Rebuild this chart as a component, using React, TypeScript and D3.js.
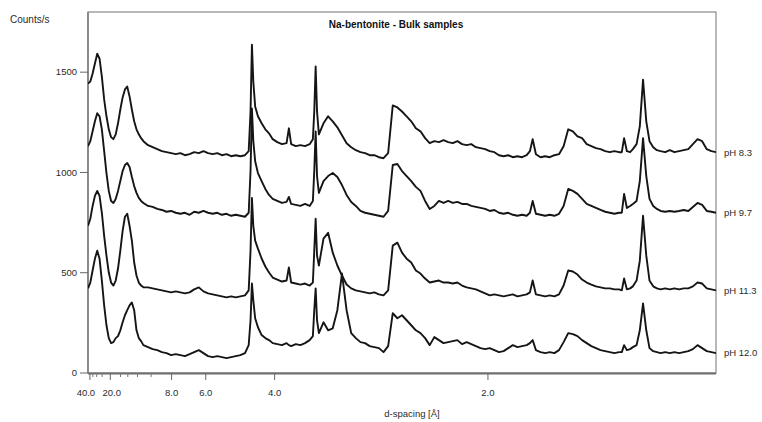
import React from "react";
import * as d3 from "d3";

// 2-theta grid (degrees, Cu K-alpha) shared by all four scans
const twoTheta = [
  2, 2.25, 2.5, 2.75, 3, 3.25, 3.5, 3.75, 4, 4.25, 4.5, 4.75, 5, 5.25, 5.5, 5.75, 6, 6.25, 6.5, 6.75, 7, 7.25, 7.5, 7.75, 8,
  8.5, 9, 9.5, 10, 10.5, 11, 11.5, 12, 12.5, 13, 13.5, 14, 14.5, 15, 15.5, 16, 16.5, 17, 17.5, 18, 18.5, 19,
  19.4, 19.6, 19.75, 19.9, 20.1, 20.4, 20.8, 21.2, 21.6, 22,
  22.5, 23, 23.5, 23.75, 24, 24.5, 25, 25.5, 26,
  26.35, 26.5, 26.65, 26.8, 27,
  27.5, 28, 28.5, 29, 29.5, 30, 30.5, 31, 31.5, 32, 32.5, 33, 33.5, 34, 34.5, 35, 35.5, 36, 36.5, 37, 37.5, 38, 38.5, 39, 39.5, 40,
  40.5, 41, 41.5, 42, 42.5, 43, 43.5, 44, 44.5, 45, 45.5, 46, 46.5, 47, 47.5, 48, 48.5, 49, 49.5,
  49.85, 50.15, 50.5,
  51, 51.5, 52, 52.5, 53, 53.5, 54, 54.5, 55, 55.5, 56, 56.5, 57, 57.5, 58, 58.5, 59, 59.5,
  59.8, 60.05, 60.35, 60.7,
  61, 61.4, 61.75, 62.1, 62.45, 62.8, 63.2, 63.6,
  64, 64.5, 65, 65.5, 66, 66.5, 67, 67.5, 68, 68.5, 69, 69.5, 70,
];

const pH83 = [
  1443, 1453, 1493, 1543, 1592, 1567, 1478, 1364, 1280, 1215, 1176, 1166, 1190, 1245, 1314, 1374, 1414, 1428, 1379, 1314, 1255, 1215, 1190, 1171, 1156,
  1136, 1126, 1116, 1106, 1101, 1096, 1091, 1096, 1086, 1091, 1101, 1096, 1106, 1096, 1091, 1096, 1086, 1091, 1081, 1086, 1081, 1086,
  1106, 1304, 1637, 1453, 1329, 1280, 1245, 1215, 1195, 1166,
  1151, 1141, 1146, 1220, 1141, 1131, 1136, 1131, 1141,
  1166, 1304, 1528, 1304, 1190,
  1245, 1280, 1255, 1225, 1185, 1146, 1126, 1111, 1101, 1096, 1086, 1086, 1076, 1071, 1096, 1334, 1324, 1304, 1280, 1255, 1220, 1205, 1171, 1146, 1156, 1151,
  1161, 1151, 1146, 1156, 1141, 1136, 1141, 1126, 1121, 1116, 1106, 1101, 1086, 1081, 1086, 1076, 1081, 1076, 1086,
  1106, 1166, 1091,
  1076, 1081, 1076, 1086, 1091, 1131, 1215, 1205, 1180, 1171, 1141, 1131, 1121, 1116, 1106, 1101, 1106, 1101,
  1101, 1171, 1106, 1101,
  1116, 1141, 1230, 1463, 1255, 1156, 1126, 1111,
  1106, 1101, 1111, 1101, 1106, 1111, 1116, 1141, 1166, 1156, 1116, 1106, 1101,
];

const pH97 = [
  1131, 1156, 1205, 1255, 1295, 1280, 1215, 1106, 997, 908, 858, 848, 868, 908, 957, 1007, 1037, 1047, 1027, 977, 932, 898, 873, 858, 848,
  833, 828, 818, 813, 804, 808, 799, 794, 799, 789, 804, 799, 808, 799, 794, 799, 789, 794, 784, 789, 784, 779,
  799, 1007, 1319, 1156, 1056, 997, 957, 918, 888, 868,
  858, 848, 853, 878, 843, 838, 833, 843, 833,
  858, 1007, 1205, 982, 898,
  957, 982, 997, 977, 937, 888, 853, 833, 808, 799, 794, 789, 784, 779, 808, 1037, 1042, 1007, 982, 957, 928, 908, 858, 818, 833, 858,
  848, 858, 848, 853, 843, 843, 833, 828, 823, 818, 808, 813, 799, 794, 799, 789, 784, 789, 784,
  799, 858, 794,
  789, 784, 789, 784, 794, 833, 918, 908, 893, 868, 843, 833, 823, 813, 804, 799, 794, 799,
  799, 893, 823, 833,
  843, 858, 957, 1171, 982, 868, 833, 818,
  808, 804, 808, 804, 808, 813, 808, 828, 848, 838, 808, 804, 799,
];

const pH113 = [
  734, 769, 833, 883, 908, 883, 799, 684, 585, 501, 451, 436, 461, 521, 610, 709, 779, 794, 734, 660, 551, 486, 451, 436, 427,
  427, 422, 417, 412, 407, 402, 407, 402, 397, 402, 417, 427, 407, 397, 392, 387, 382, 377, 382, 377, 382, 387,
  412, 610, 873, 734, 660, 620, 571, 531, 501, 476,
  466, 456, 461, 526, 451, 446, 441, 446, 436,
  451, 610, 769, 585, 536,
  670, 699, 600, 536, 486, 441, 422, 412, 407, 402, 397, 402, 392, 387, 412, 635, 650, 600, 570, 551, 511, 496, 471, 451, 456, 461,
  451, 451, 446, 451, 436, 427, 422, 417, 407, 397, 387, 392, 387, 382, 387, 392, 382, 387, 392,
  402, 461, 392,
  387, 382, 387, 382, 392, 436, 511, 506, 491, 466, 451, 441, 432, 427, 422, 422, 417, 417,
  412, 471, 417, 422,
  432, 461, 560, 784, 585, 461, 432, 422,
  417, 422, 417, 422, 417, 422, 422, 432, 451, 446, 422, 417, 412,
];

const pH120 = [
  422, 451, 511, 570, 610, 570, 461, 337, 238, 174, 149, 154, 174, 184, 213, 253, 288, 313, 337, 352, 313, 213, 174, 159, 139,
  129, 119, 114, 104, 99, 89, 94, 89, 84, 94, 104, 114, 99, 84, 79, 84, 79, 74, 79, 84, 89, 99,
  139, 263, 446, 362, 273, 228, 189, 174, 164, 149,
  144, 139, 149, 139, 134, 144, 139, 149, 164,
  184, 313, 422, 263, 199,
  253, 213, 223, 313, 496, 313, 199, 174, 154, 149, 134, 129, 124, 104, 134, 298, 273, 288, 263, 238, 213, 199, 174, 139, 179, 164,
  149, 154, 159, 164, 144, 154, 144, 134, 124, 119, 124, 114, 104, 109, 124, 139, 129, 134, 139,
  149, 164, 114,
  104, 99, 104, 99, 114, 154, 199, 194, 184, 164, 149, 134, 124, 114, 109, 104, 99, 104,
  104, 139, 114, 119,
  129, 139, 213, 347, 213, 124, 109, 104,
  99, 104, 99, 104, 99, 104, 109, 119, 139, 124, 109, 104, 99,
];

const seriesLabels = ["pH 8.3", "pH 9.7", "pH 11.3", "pH 12.0"];
const seriesValues = [pH83, pH97, pH113, pH120];
const yTicks = [0, 500, 1000, 1500];
const dMajorTicks = [40, 20, 8, 6, 4, 2];
const dMinorTicks = [35, 30, 25, 16, 14, 12, 10];
const WAVELENGTH = 1.5406;

const W = 762;
const H = 422;
const M = { left: 88, right: 716, top: 12, bottom: 373 };
const FONT = "'Liberation Sans', Arial, Helvetica, sans-serif";
const TEXT = "#2a2a2a";

const dToTwoTheta = (d: number) => (2 * Math.asin(WAVELENGTH / (2 * d)) * 180) / Math.PI;

export default function App() {
  const x = d3.scaleLinear().domain([2, 70]).range([M.left, M.right]);
  const y = d3.scaleLinear().domain([0, 1800]).range([M.bottom, M.top]);

  const line = d3
    .line<[number, number]>()
    .x((p) => x(p[0]))
    .y((p) => y(p[1]));

  // the two leftmost d-spacing labels sit close together; nudge them apart
  const labelNudge = (d: number) => (d === 40 ? -4 : d === 20 ? 1.5 : 0);

  return (
    <svg
      width={W}
      height={H}
      viewBox={`0 0 ${W} ${H}`}
      style={{ position: "absolute", left: 0, top: 0, background: "#fff" }}
      fontFamily={FONT}
    >
      <defs>
        <clipPath id="plotClip">
          <rect x={M.left} y={M.top} width={M.right - M.left} height={M.bottom - M.top} />
        </clipPath>
      </defs>
      <rect x={0} y={0} width={W} height={H} fill="#fff" />

      {/* frame */}
      <rect
        x={M.left}
        y={M.top}
        width={M.right - M.left}
        height={M.bottom - M.top}
        fill="none"
        stroke="#8a8a8a"
        strokeWidth={1.2}
      />
      <line x1={M.left} x2={M.right} y1={M.bottom + 0.5} y2={M.bottom + 0.5} stroke="#6e6e6e" strokeWidth={2} />
      <line x1={M.left} x2={M.left} y1={M.top} y2={M.bottom} stroke="#777" strokeWidth={1.4} />

      {/* traces */}
      <g clipPath="url(#plotClip)">
        {seriesValues.map((vals, i) => (
          <path
            key={seriesLabels[i]}
            d={line(twoTheta.map((t, j) => [t, vals[j]] as [number, number])) || ""}
            fill="none"
            stroke="#151515"
            strokeWidth={1.9}
            strokeLinejoin="round"
          />
        ))}
      </g>

      {/* series labels */}
      {seriesValues.map((vals, i) => (
        <text
          key={"lab" + i}
          x={M.right + 8}
          y={y(vals[vals.length - 1])}
          dy="0.35em"
          fontSize={9.5}
          fill={TEXT}
        >
          {seriesLabels[i]}
        </text>
      ))}

      {/* y axis */}
      {yTicks.map((v) => (
        <g key={"y" + v}>
          <line x1={M.left - 8} x2={M.left} y1={y(v)} y2={y(v)} stroke="#666" strokeWidth={1} />
          <text x={M.left - 11} y={y(v)} dy="0.35em" textAnchor="end" fontSize={9.5} fill={TEXT}>
            {v}
          </text>
        </g>
      ))}
      <text x={10} y={23} fontSize={10} fill={TEXT}>
        Counts/s
      </text>

      {/* x axis (d-spacing) */}
      {dMinorTicks.map((d) => (
        <line
          key={"xm" + d}
          x1={x(dToTwoTheta(d))}
          x2={x(dToTwoTheta(d))}
          y1={M.bottom}
          y2={M.bottom + 4}
          stroke="#777"
          strokeWidth={1}
        />
      ))}
      {dMajorTicks.map((d) => (
        <g key={"xM" + d}>
          <line
            x1={x(dToTwoTheta(d))}
            x2={x(dToTwoTheta(d))}
            y1={M.bottom}
            y2={M.bottom + 7}
            stroke="#666"
            strokeWidth={1}
          />
          <text
            x={x(dToTwoTheta(d)) + labelNudge(d)}
            y={M.bottom + 23}
            textAnchor="middle"
            fontSize={9.5}
            fill={TEXT}
          >
            {d.toFixed(1)}
          </text>
        </g>
      ))}
      <text x={412} y={417} textAnchor="middle" fontSize={9.5} fill={TEXT}>
        d-spacing [Å]
      </text>

      {/* title */}
      <text x={396} y={28} textAnchor="middle" fontSize={10} fontWeight="bold" fill="#111">
        Na-bentonite - Bulk samples
      </text>
    </svg>
  );
}
